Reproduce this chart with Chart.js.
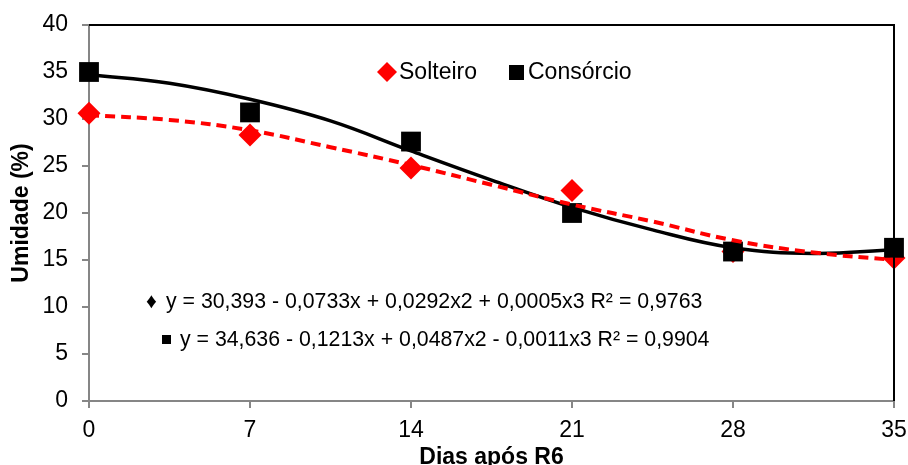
<!DOCTYPE html>
<html>
<head>
<meta charset="utf-8">
<script src="https://cdn.jsdelivr.net/npm/chart.js@4/dist/chart.umd.min.js"></script>
<style>
  body { margin: 0; background: #fff; }
  canvas { display: block; }
</style>
</head>
<body>
<canvas id="umidade-chart" width="908" height="465"></canvas>
<script>
// observed values
const days = [0, 7, 14, 21, 28, 35];
const solteiro = [30.6, 28.3, 24.8, 22.4, 15.9, 15.2];
const consorcio = [35.0, 30.7, 27.6, 20.0, 15.9, 16.3];

// trend curves
const trendDays = [0, 3.5, 7, 10.5, 14, 17.5, 21, 24.5, 28, 31.5, 35];
const solteiroTrend = [30.4, 29.9, 28.8, 27.0, 25.1, 23.0, 20.9, 19.1, 17.1, 15.8, 15.0];
const consorcioTrend = [34.7, 33.8, 32.1, 29.8, 26.6, 23.5, 20.6, 18.2, 16.3, 15.7, 16.1];

const xTicks = [0, 7, 14, 21, 28, 35];
const equations = [
  'y = 30,393 - 0,0733x + 0,0292x2 + 0,0005x3 R² = 0,9763',
  'y = 34,636 - 0,1213x + 0,0487x2 - 0,0011x3 R² = 0,9904'
];

const FONT = '"Liberation Sans", Arial, sans-serif';
const AXIS_GRAY = '#868686';

const pts = (xs, ys) => xs.map((x, i) => ({ x, y: ys[i] }));

// top/right frame, legend inside the plot, trend equations
const extras = {
  id: 'extras',
  afterDraw(chart) {
    const { ctx, chartArea: a } = chart;
    ctx.save();
    ctx.strokeStyle = '#000';
    ctx.lineWidth = 2;
    ctx.beginPath();
    ctx.moveTo(a.left, a.top);
    ctx.lineTo(a.right, a.top);
    ctx.lineTo(a.right, a.bottom);
    ctx.stroke();

    // legend
    ctx.font = '23px ' + FONT;
    ctx.textBaseline = 'middle';
    ctx.fillStyle = 'red';
    ctx.beginPath();
    ctx.moveTo(387, 62); ctx.lineTo(397, 72); ctx.lineTo(387, 82); ctx.lineTo(377, 72);
    ctx.closePath();
    ctx.fill();
    ctx.fillStyle = '#000';
    ctx.fillText('Solteiro', 399, 73);
    ctx.fillRect(509, 65, 15, 15);
    ctx.fillText('Consórcio', 528, 73);

    // equations
    ctx.font = '21.3px ' + FONT;
    ctx.fillText('♦', 146, 302);
    ctx.fillText(equations[0], 166, 302);
    ctx.fillRect(162, 335, 9, 9);
    ctx.fillText(equations[1], 180, 340);
    ctx.restore();
  }
};

const ctx = document.getElementById('umidade-chart');

const datasets = [
  {
    label: 'Solteiro (tendência)',
    data: pts(trendDays, solteiroTrend),
    showLine: true,
    borderColor: 'red',
    borderWidth: 4,
    borderDash: [10, 6],
    pointRadius: 0,
    tension: 0.4,
    order: 0
  },
  {
    label: 'Consórcio (tendência)',
    data: pts(trendDays, consorcioTrend),
    showLine: true,
    borderColor: '#000',
    borderWidth: 3.5,
    pointRadius: 0,
    tension: 0.4,
    order: 1
  },
  {
    label: 'Consórcio',
    data: pts(days, consorcio),
    pointStyle: 'rect',
    pointRadius: 14,
    backgroundColor: '#000',
    borderWidth: 0,
    clip: false,
    order: 2
  },
  {
    label: 'Solteiro',
    data: pts(days, solteiro),
    pointStyle: 'rectRot',
    pointRadius: 11.5,
    backgroundColor: 'red',
    borderWidth: 0,
    clip: false,
    order: 3
  }
];

new Chart(ctx, {
  type: 'scatter',
  data: { datasets },
  options: {
    responsive: false,
    animation: false,
    events: [],
    layout: { padding: { top: 25, right: 13, left: 0, bottom: 0 } },
    plugins: { legend: { display: false }, tooltip: { enabled: false } },
    scales: {
      x: {
        type: 'linear',
        min: 0,
        max: 35,
        z: 1,
        afterBuildTicks: s => { s.ticks = xTicks.map(v => ({ value: v })); },
        ticks: { color: '#000', font: { family: FONT, size: 23 }, padding: 9 },
        grid: { drawOnChartArea: false, tickLength: 7, color: AXIS_GRAY, lineWidth: 2 },
        border: { color: AXIS_GRAY, width: 2 },
        title: {
          display: true, text: 'Dias após R6', color: '#000', padding: 0,
          font: { family: FONT, size: 23, weight: 'bold', lineHeight: 0.65 }
        },
        afterFit: s => { s.height = 64; s.paddingLeft = 0; s.paddingRight = 0; }
      },
      y: {
        min: 0,
        max: 40,
        z: 1,
        ticks: { stepSize: 5, color: '#000', font: { family: FONT, size: 23 }, padding: 14 },
        grid: { drawOnChartArea: false, tickLength: 7, color: AXIS_GRAY, lineWidth: 2 },
        border: { color: AXIS_GRAY, width: 2 },
        title: {
          display: true, text: 'Umidade (%)', color: '#000', padding: { top: 10 },
          font: { family: FONT, size: 23, weight: 'bold', lineHeight: 1 }
        },
        afterFit: s => { s.width = 89; s.paddingTop = 0; s.paddingBottom = 0; }
      }
    }
  },
  plugins: [extras]
});
</script>
</body>
</html>
